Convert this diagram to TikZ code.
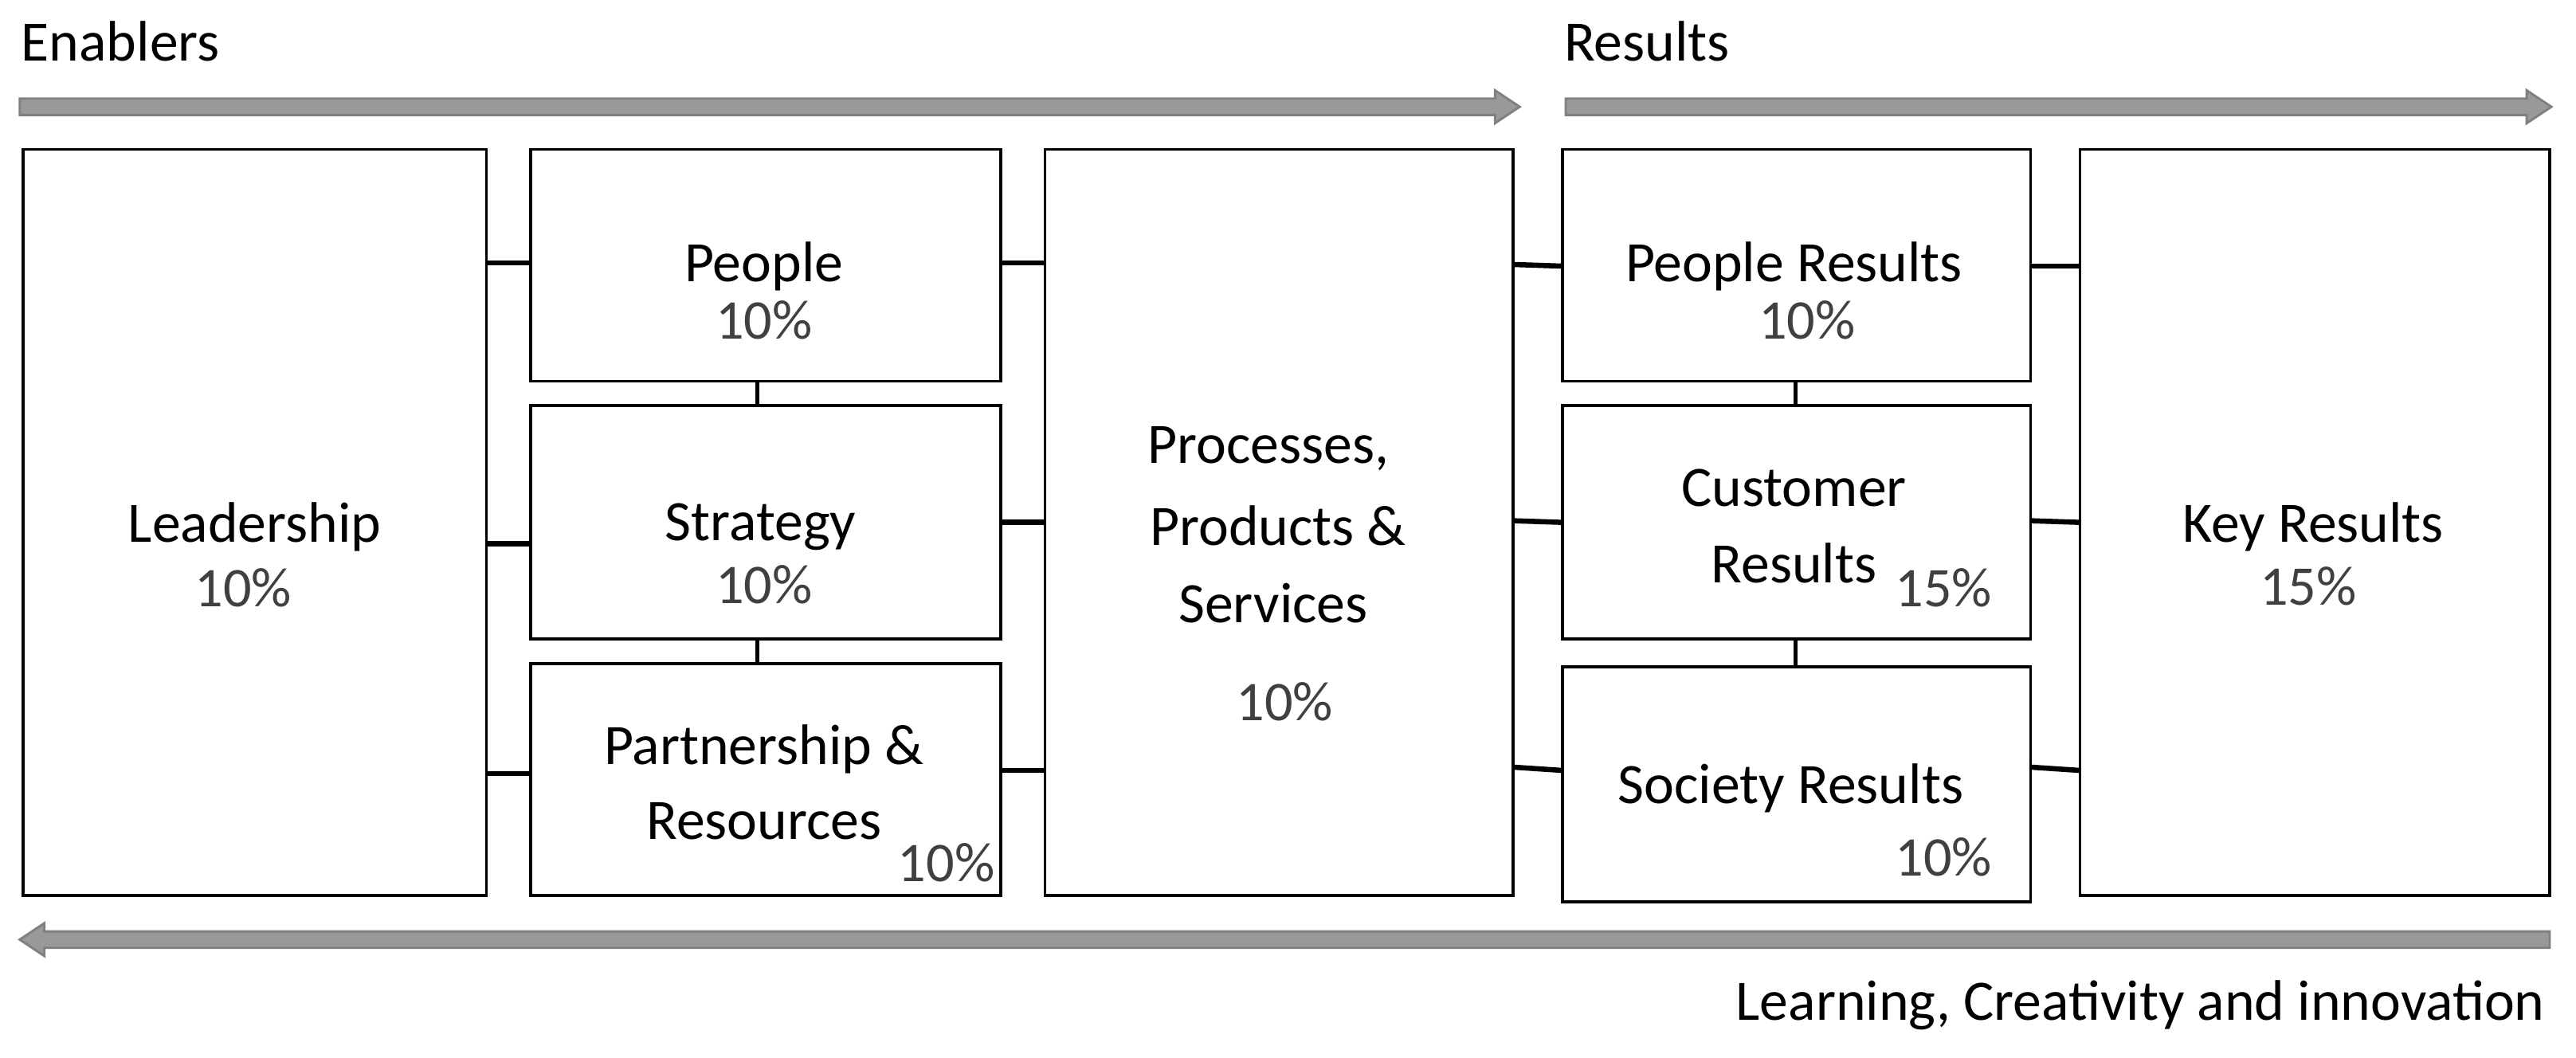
\documentclass[tikz,border=0pt]{standalone}
\usepackage{fontspec}
\setmainfont{Carlito}
\begin{document}
\begin{tikzpicture}[x=0.1cm,y=-0.1cm,
 box/.style={draw,line width=5pt,fill=white},
 con/.style={line width=9pt},
 vcon/.style={line width=6pt},
 t/.style={font=\fontsize{99}{110}\selectfont,inner sep=0pt},
 p/.style={font=\fontsize{97}{110}\selectfont,text=black!75,inner sep=0pt},
 garrow/.style={fill=black!40,draw=black!50,line width=4pt}]
\useasboundingbox (0,0) rectangle (1568,644);
\node[t,anchor=west] (en) at (13,25) {Enablers};
\node[t,anchor=west] (re) at (952,25) {Results};
\node[t,anchor=east] (lc) at (1549,612) {Learning, Creativity and innovation};
\draw[garrow] (12,60) -- (910,60) -- (910,55) -- (925,65) -- (910,75) -- (910,70) -- (12,70) -- cycle;
\draw[garrow] (953,60) -- (1538,60) -- (1538,55) -- (1553,65) -- (1538,75) -- (1538,70) -- (953,70) -- cycle;
\draw[garrow] (1552,567) -- (27,567) -- (27,562) -- (12,572) -- (27,582) -- (27,577) -- (1552,577) -- cycle;
\path[box] (14,91) rectangle (296,545);
\path[box] (323,91) rectangle (609,232);
\path[box] (323,247) rectangle (609,389);
\path[box] (323,404) rectangle (609,545);
\path[box] (636,91) rectangle (921,545);
\path[box] (951,91) rectangle (1236,232);
\path[box] (951,247) rectangle (1236,389);
\path[box] (951,406) rectangle (1236,549);
\path[box] (1266,91) rectangle (1552,545);
% connectors
\coordinate (a1) at (296,160); \coordinate (b1) at (323,160);
\coordinate (a2) at (296,331); \coordinate (b2) at (323,331);
\coordinate (a3) at (296,471); \coordinate (b3) at (323,471);
\coordinate (c1) at (609,160); \coordinate (d1) at (636,160);
\coordinate (c2) at (609,318); \coordinate (d2) at (636,318);
\coordinate (c3) at (609,469); \coordinate (d3) at (636,469);
\coordinate (e1) at (921,161); \coordinate (f1) at (951,162);
\coordinate (e2) at (921,317); \coordinate (f2) at (951,318);
\coordinate (e3) at (921,467); \coordinate (f3) at (951,469);
\coordinate (g1) at (1236,162); \coordinate (h1) at (1266,162);
\coordinate (g2) at (1236,317); \coordinate (h2) at (1266,318);
\coordinate (g3) at (1236,467); \coordinate (h3) at (1266,469);
\foreach \u/\v in {a1/b1,a2/b2,a3/b3,c1/d1,c2/d2,c3/d3,e1/f1,e2/f2,e3/f3,g1/h1,g2/h2,g3/h3} \draw[con] (\u) -- (\v);
\coordinate (v1) at (461,232); \coordinate (v2) at (461,247);
\coordinate (v3) at (461,389); \coordinate (v4) at (461,404);
\coordinate (w1) at (1093,232); \coordinate (w2) at (1093,247);
\coordinate (w3) at (1093,389); \coordinate (w4) at (1093,406);
\draw[vcon] (v1)--(v2); \draw[vcon] (v3)--(v4);
\draw[vcon] (w1)--(w2); \draw[vcon] (w3)--(w4);
% texts
\node[t] (tl) at (155,321) {Leadership};
\node[p] (pl) at (148,358) {10\%};
\node[t] (tp) at (465,162) {People};
\node[p] (pp) at (465,195) {10\%};
\node[t] (ts) at (463,321) {Strategy};
\node[p] (ps) at (465,356) {10\%};
\node[t] (tpa) at (465,456) {Partnership \&};
\node[t] (tre) at (465,500) {Resources};
\node[p] (ppa) at (576,525) {10\%};
\node[t] (tpr1) at (772,273) {Processes,};
\node[t] (tpr2) at (778,320) {Products \&};
\node[t] (tpr3) at (775,367) {Services};
\node[p] (ppr) at (782,427) {10\%};
\node[t] (tpe) at (1092,162) {People Results};
\node[p] (ppe) at (1100,195) {10\%};
\node[t] (tc1) at (1092,297) {Customer};
\node[t] (tc2) at (1092,343) {Results};
\node[p] (pc) at (1183,358) {15\%};
\node[t] (tso) at (1090,480) {Society Results};
\node[p] (pso) at (1183,522) {10\%};
\node[t] (tk) at (1408,321) {Key Results};
\node[p] (pk) at (1405,357) {15\%};
\end{tikzpicture}
\end{document}
